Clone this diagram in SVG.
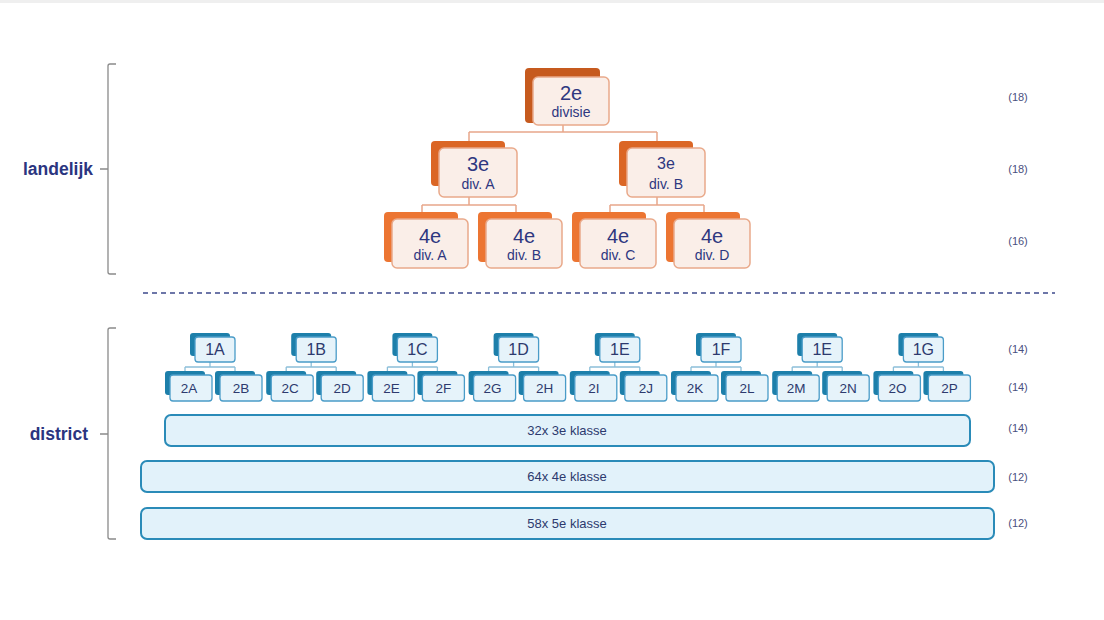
<svg xmlns="http://www.w3.org/2000/svg" width="1104" height="620" viewBox="0 0 1104 620">
<style>
.bg{fill:#ffffff}
.ob1{fill:#C65A1E}
.ob2{fill:#DB6625}
.ob3{fill:#EC7532}
.of{fill:#FAEEE8;stroke:#E9A98A;stroke-width:1.5}
.oc{fill:none;stroke:#E8A68A;stroke-width:1.5}
.tb{fill:#1D7FAA}
.tf{fill:#E6F3FA;stroke:#4A9CC8;stroke-width:1.3}
.tc{fill:none;stroke:#8CBFD9;stroke-width:1.3}
.bar{fill:#E2F2FA;stroke:#2A8BB8;stroke-width:2}
.t{font-family:"Liberation Sans",Arial,sans-serif;fill:#2E3780;text-anchor:middle}
.big{font-size:20px}
.sm{font-size:14px}
.dt{font-family:"Liberation Sans",Arial,sans-serif;fill:#2D3A6E;text-anchor:middle}
.lab{font-family:"Liberation Sans",Arial,sans-serif;font-weight:bold;font-size:17.5px;fill:#2B3580;text-anchor:end}
.cnt{font-family:"Liberation Sans",Arial,sans-serif;font-size:11px;fill:#4A5080;text-anchor:middle}
.br{fill:none;stroke:#8A8A8A;stroke-width:1.3}
</style>
<rect class="bg" x="0" y="0" width="1104" height="620"/>
<rect x="0" y="0" width="1104" height="3" fill="#EFEFEF"/>

<!-- brackets and labels -->
<g id="landelijk">
<path class="br" d="M116,64 H110 Q108,64 108,66 V272 Q108,274 110,274 H116 M108,169 H100"/>
<text class="lab" x="93" y="175">landelijk</text>
</g>
<g id="district">
<path class="br" d="M116,328 H110 Q108,328 108,330 V537 Q108,539 110,539 H116 M108,434 H100"/>
<text class="lab" x="88" y="440">district</text>
</g>
<line x1="143" y1="293" x2="1055" y2="293" stroke="#3E4A8C" stroke-width="1.3" stroke-dasharray="5,4"/>

<!-- counts -->
<g id="counts">
<text class="cnt" x="1018" y="101">(18)</text>
<text class="cnt" x="1018" y="173">(18)</text>
<text class="cnt" x="1018" y="245">(16)</text>
<text class="cnt" x="1018" y="353">(14)</text>
<text class="cnt" x="1018" y="391">(14)</text>
<text class="cnt" x="1018" y="432">(14)</text>
<text class="cnt" x="1018" y="481">(12)</text>
<text class="cnt" x="1018" y="527">(12)</text>
</g>

<!-- connectors -->
<g id="connectors">
<path class="oc" d="M563,125 V132 M469,132 H657 M469,132 V141 M657,132 V141"/>
<path class="oc" d="M469,197 V205 M422,205 H516 M422,205 V212 M516,205 V212"/>
<path class="oc" d="M657,197 V205 M610,205 H704 M610,205 V212 M704,205 V212"/>
<path class="tc" d="M210,356 V367 M185,367 H235 M185,367 V371 M235,367 V371"/>
<path class="tc" d="M311.2,356 V367 M286.2,367 H336.2 M286.2,367 V371 M336.2,367 V371"/>
<path class="tc" d="M412.4,356 V367 M387.4,367 H437.4 M387.4,367 V371 M437.4,367 V371"/>
<path class="tc" d="M513.6,356 V367 M488.6,367 H538.6 M488.6,367 V371 M538.6,367 V371"/>
<path class="tc" d="M614.8,356 V367 M589.8,367 H639.8 M589.8,367 V371 M639.8,367 V371"/>
<path class="tc" d="M716,356 V367 M691,367 H741 M691,367 V371 M741,367 V371"/>
<path class="tc" d="M817.2,356 V367 M792.2,367 H842.2 M792.2,367 V371 M842.2,367 V371"/>
<path class="tc" d="M918.4,356 V367 M893.4,367 H943.4 M893.4,367 V371 M943.4,367 V371"/>
</g>

<!-- orange nodes -->
<g id="n2e">
<rect class="ob1" x="525" y="68" width="75" height="55" rx="4"/>
<rect class="of" x="533" y="77" width="76" height="48" rx="5"/>
<text class="t big" x="571" y="100">2e</text>
<text class="t sm" x="571" y="117">divisie</text>
</g>
<g id="n3eA">
<rect class="ob2" x="431" y="141" width="74" height="45" rx="4"/>
<rect class="of" x="439" y="148" width="78" height="49" rx="5"/>
<text class="t big" x="478" y="171">3e</text>
<text class="t sm" x="478" y="189">div. A</text>
</g>
<g id="n3eB">
<rect class="ob2" x="619" y="141" width="74" height="45" rx="4"/>
<rect class="of" x="627" y="148" width="78" height="49" rx="5"/>
<text class="t" style="font-size:16px" x="666" y="169">3e</text>
<text class="t sm" x="666" y="189">div. B</text>
</g>
<g id="n4eA">
<rect class="ob3" x="384" y="212" width="74" height="50" rx="4"/>
<rect class="of" x="392" y="219" width="76" height="49" rx="5"/>
<text class="t big" x="430" y="243">4e</text>
<text class="t sm" x="430" y="260">div. A</text>
</g>
<g id="n4eB">
<rect class="ob3" x="478" y="212" width="74" height="50" rx="4"/>
<rect class="of" x="486" y="219" width="76" height="49" rx="5"/>
<text class="t big" x="524" y="243">4e</text>
<text class="t sm" x="524" y="260">div. B</text>
</g>
<g id="n4eC">
<rect class="ob3" x="572" y="212" width="74" height="50" rx="4"/>
<rect class="of" x="580" y="219" width="76" height="49" rx="5"/>
<text class="t big" x="618" y="243">4e</text>
<text class="t sm" x="618" y="260">div. C</text>
</g>
<g id="n4eD">
<rect class="ob3" x="666" y="212" width="74" height="50" rx="4"/>
<rect class="of" x="674" y="219" width="76" height="49" rx="5"/>
<text class="t big" x="712" y="243">4e</text>
<text class="t sm" x="712" y="260">div. D</text>
</g>

<!-- district groups -->
<defs>
<g id="grp">
<rect class="tb" x="-20" y="333" width="40" height="23" rx="3"/>
<rect class="tf" x="-15" y="337" width="40" height="25" rx="3"/>
<rect class="tb" x="-45" y="371" width="40" height="24" rx="3"/>
<rect class="tf" x="-40" y="375" width="42" height="26" rx="3"/>
<rect class="tb" x="5" y="371" width="40" height="24" rx="3"/>
<rect class="tf" x="10" y="375" width="42" height="26" rx="3"/>
</g>
</defs>
<g id="g1A"><use href="#grp" x="210"/>
<text class="dt" style="font-size:16px" x="215" y="355">1A</text>
<text class="dt" style="font-size:13.5px" x="189" y="393">2A</text>
<text class="dt" style="font-size:13.5px" x="241" y="393">2B</text></g>
<g id="g1B"><use href="#grp" x="311.2"/>
<text class="dt" style="font-size:16px" x="316.2" y="355">1B</text>
<text class="dt" style="font-size:13.5px" x="290.2" y="393">2C</text>
<text class="dt" style="font-size:13.5px" x="342.2" y="393">2D</text></g>
<g id="g1C"><use href="#grp" x="412.4"/>
<text class="dt" style="font-size:16px" x="417.4" y="355">1C</text>
<text class="dt" style="font-size:13.5px" x="391.4" y="393">2E</text>
<text class="dt" style="font-size:13.5px" x="443.4" y="393">2F</text></g>
<g id="g1D"><use href="#grp" x="513.6"/>
<text class="dt" style="font-size:16px" x="518.6" y="355">1D</text>
<text class="dt" style="font-size:13.5px" x="492.6" y="393">2G</text>
<text class="dt" style="font-size:13.5px" x="544.6" y="393">2H</text></g>
<g id="g1E"><use href="#grp" x="614.8"/>
<text class="dt" style="font-size:16px" x="619.8" y="355">1E</text>
<text class="dt" style="font-size:13.5px" x="593.8" y="393">2I</text>
<text class="dt" style="font-size:13.5px" x="645.8" y="393">2J</text></g>
<g id="g1F"><use href="#grp" x="716"/>
<text class="dt" style="font-size:16px" x="721" y="355">1F</text>
<text class="dt" style="font-size:13.5px" x="695" y="393">2K</text>
<text class="dt" style="font-size:13.5px" x="747" y="393">2L</text></g>
<g id="g1E2"><use href="#grp" x="817.2"/>
<text class="dt" style="font-size:16px" x="822.2" y="355">1E</text>
<text class="dt" style="font-size:13.5px" x="796.2" y="393">2M</text>
<text class="dt" style="font-size:13.5px" x="848.2" y="393">2N</text></g>
<g id="g1G"><use href="#grp" x="918.4"/>
<text class="dt" style="font-size:16px" x="923.4" y="355">1G</text>
<text class="dt" style="font-size:13.5px" x="897.4" y="393">2O</text>
<text class="dt" style="font-size:13.5px" x="949.4" y="393">2P</text></g>

<!-- bars -->
<g id="bar3e">
<rect class="bar" x="165" y="415" width="805" height="31" rx="6"/>
<text class="dt" style="font-size:13px" x="567" y="435">32x 3e klasse</text>
</g>
<g id="bar4e">
<rect class="bar" x="141" y="461" width="853" height="31" rx="6"/>
<text class="dt" style="font-size:13px" x="567" y="481">64x 4e klasse</text>
</g>
<g id="bar5e">
<rect class="bar" x="141" y="508" width="853" height="31" rx="6"/>
<text class="dt" style="font-size:13px" x="567" y="528">58x 5e klasse</text>
</g>
</svg>
